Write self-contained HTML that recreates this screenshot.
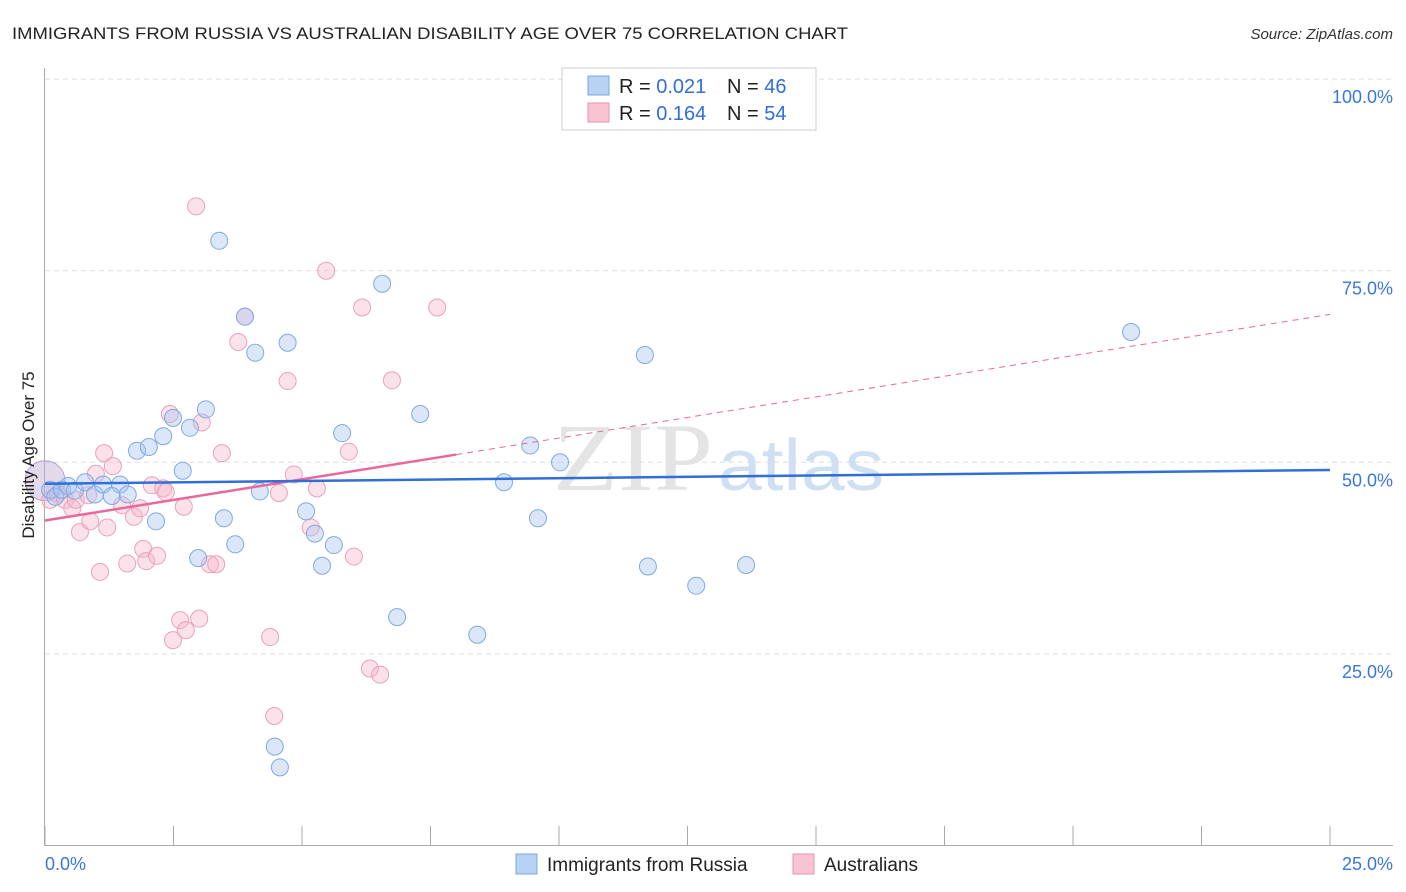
<!DOCTYPE html>
<html><head><meta charset="utf-8"><style>
body{margin:0;background:#fff;font-family:"Liberation Sans",sans-serif}
svg{display:block}
</style></head><body>
<svg id="chart" width="1406" height="892" xmlns="http://www.w3.org/2000/svg">
<text x="12" y="39" font-size="17" fill="#222" textLength="836" lengthAdjust="spacingAndGlyphs">IMMIGRANTS FROM RUSSIA VS AUSTRALIAN DISABILITY AGE OVER 75 CORRELATION CHART</text>
<text x="1393" y="39" font-size="15" font-style="italic" fill="#333" text-anchor="end">Source: ZipAtlas.com</text>
<g id="grid"></g>
<g>
<text x="633" y="490" font-size="96" font-family="Liberation Serif,serif" fill="#e4e4e4" text-anchor="middle" textLength="160" lengthAdjust="spacingAndGlyphs">ZIP</text>
<text x="801" y="490" font-size="72" fill="#cfe0f4" text-anchor="middle" textLength="166" lengthAdjust="spacingAndGlyphs">atlas</text>
</g>
<g id="pts"></g>
<g id="lines"></g>
<text transform="translate(34,455) rotate(-90)" font-size="17" fill="#222" text-anchor="middle">Disability Age Over 75</text>
<g>
<rect x="562" y="68" width="254" height="62" fill="#fff" stroke="#ccc"/>
<rect x="588" y="76" width="21" height="19" fill="#b8d2f4" stroke="#7aa6e0"/>
<rect x="588" y="103" width="21" height="19" fill="#f8c4d4" stroke="#e890b0"/>
<text x="619" y="93" font-size="20" fill="#222">R = <tspan fill="#2f6fd6">0.021</tspan></text>
<text x="727" y="93" font-size="20" fill="#222">N = <tspan fill="#2f6fd6">46</tspan></text>
<text x="619" y="120" font-size="20" fill="#222">R = <tspan fill="#2f6fd6">0.164</tspan></text>
<text x="727" y="120" font-size="20" fill="#222">N = <tspan fill="#2f6fd6">54</tspan></text>
</g>
<g>
<rect x="516" y="854" width="21" height="20" fill="#b8d2f4" stroke="#7aa6e0"/>
<text x="547" y="871" font-size="19" fill="#222">Immigrants from Russia</text>
<rect x="793" y="854" width="21" height="20" fill="#f8c4d4" stroke="#e890b0"/>
<text x="824" y="871" font-size="19" fill="#222">Australians</text>
</g>
</svg>
<script>
const xTicks=[0,2.5,5,7.5,10,12.5,15,17.5,20,22.5,25];
const yTicks=[25,50,75,100];
const yTickLabels=["25.0%","50.0%","75.0%","100.0%"];
const xLabels=["0.0%","25.0%"];
const russiaX=[0.1,0.2,0.33,0.45,0.58,0.78,0.97,1.13,1.46,1.3,1.61,1.79,2.02,2.16,2.3,2.49,2.68,2.82,2.98,3.13,3.39,3.48,3.7,3.89,4.09,4.18,4.47,4.57,4.72,5.08,5.25,5.39,5.62,5.78,6.56,6.85,7.3,8.41,8.93,9.44,9.59,10.02,11.67,11.73,12.67,13.64,21.13];
const russiaY=[46.4,45.5,46.4,46.9,46.3,47.4,45.8,47.1,47.1,45.6,45.8,51.5,52.0,42.3,53.4,55.8,48.9,54.5,37.5,56.9,78.9,42.7,39.3,69.0,64.3,46.2,12.9,10.2,65.6,43.6,40.7,36.5,39.2,53.8,73.3,29.8,56.3,27.5,47.4,52.2,42.7,50.0,64.0,36.4,33.9,36.6,67.0];
const ausX=[0.1,0.25,0.39,0.53,0.6,0.68,0.84,0.88,0.99,1.07,1.15,1.21,1.32,1.5,1.6,1.73,1.85,1.91,1.97,2.08,2.18,2.3,2.35,2.43,2.49,2.63,2.74,2.7,2.94,3.0,3.05,3.21,3.33,3.44,3.76,3.89,4.38,4.46,4.55,4.72,4.84,5.17,5.29,5.47,5.91,6.01,6.17,6.32,6.52,6.75,7.63];
const ausY=[45.1,45.9,45.1,44.0,45.1,40.9,45.7,42.3,48.5,35.7,51.2,41.5,49.5,44.4,36.8,42.9,44.0,38.7,37.1,47.0,37.8,46.6,46.1,56.3,26.8,29.4,28.1,44.2,83.4,29.6,55.2,36.7,36.7,51.2,65.7,69.0,27.2,16.9,46.0,60.6,48.4,41.5,46.6,75.0,51.4,37.7,70.2,23.1,22.3,60.7,70.2];
const russiaFit=[47.2,49.0];
const ausFit=[42.4,69.3];
const ausSolidEnd=8.0;
const X=v=>45+v/25*1285;
const Y=v=>845.5-v*7.664;
const NS="http://www.w3.org/2000/svg";
function mk(tag,attrs,parent){const e=document.createElementNS(NS,tag);for(const k in attrs)e.setAttribute(k,attrs[k]);parent.appendChild(e);return e;}
const grid=document.getElementById('grid');
mk('line',{x1:44.5,y1:68,x2:44.5,y2:846,stroke:'#aaa'},grid);
mk('line',{x1:44,y1:845.5,x2:1393,y2:845.5,stroke:'#aaa'},grid);
xTicks.forEach(t=>{const l=mk('line',{x1:X(t),y1:826,x2:X(t),y2:846,stroke:'#aaa'},grid);

});
yTicks.forEach((t,i)=>{const l=mk('line',{x1:45,y1:Y(t),x2:1393,y2:Y(t),stroke:'#ddd','stroke-dasharray':'5,4'},grid);


const tx=mk('text',{x:1393,y:Y(t)+24,'font-size':18,fill:'#3a78d8','text-anchor':'end'},grid);tx.textContent=yTickLabels[i];

});
const xl0=mk('text',{x:45,y:870,'font-size':18,fill:'#3a78d8'},grid);xl0.textContent=xLabels[0];


const xl1=mk('text',{x:1393,y:870,'font-size':18,fill:'#3a78d8','text-anchor':'end'},grid);xl1.textContent=xLabels[1];


const pts=document.getElementById('pts');
const big=mk('circle',{cx:45,cy:Y(47.6),r:20,fill:'rgba(190,170,210,0.45)',stroke:'#b0a0d0'},pts);


ausX.forEach((v,i)=>{const c=mk('circle',{cx:X(v),cy:Y(ausY[i]),r:8.5,fill:'rgba(246,182,202,0.4)',stroke:'#eba0bc','stroke-width':1},pts);

});
russiaX.forEach((v,i)=>{const c=mk('circle',{cx:X(v),cy:Y(russiaY[i]),r:8.5,fill:'rgba(164,196,240,0.4)',stroke:'#80a9e2','stroke-width':1},pts);

});
const lines=document.getElementById('lines');
const ay=v=>ausFit[0]+(ausFit[1]-ausFit[0])*v/25;
const d=mk('line',{x1:X(ausSolidEnd),y1:Y(ay(ausSolidEnd)),x2:X(25),y2:Y(ausFit[1]),stroke:'#e8689a','stroke-width':1,'stroke-dasharray':'6,5'},lines);


const s=mk('line',{x1:X(0),y1:Y(ausFit[0]),x2:X(ausSolidEnd),y2:Y(ay(ausSolidEnd)),stroke:'#e8689a','stroke-width':2.5},lines);


const b=mk('line',{x1:X(0),y1:Y(russiaFit[0]),x2:X(25),y2:Y(russiaFit[1]),stroke:'#2f6fd6','stroke-width':2.5},lines);


</script>
</body></html>
